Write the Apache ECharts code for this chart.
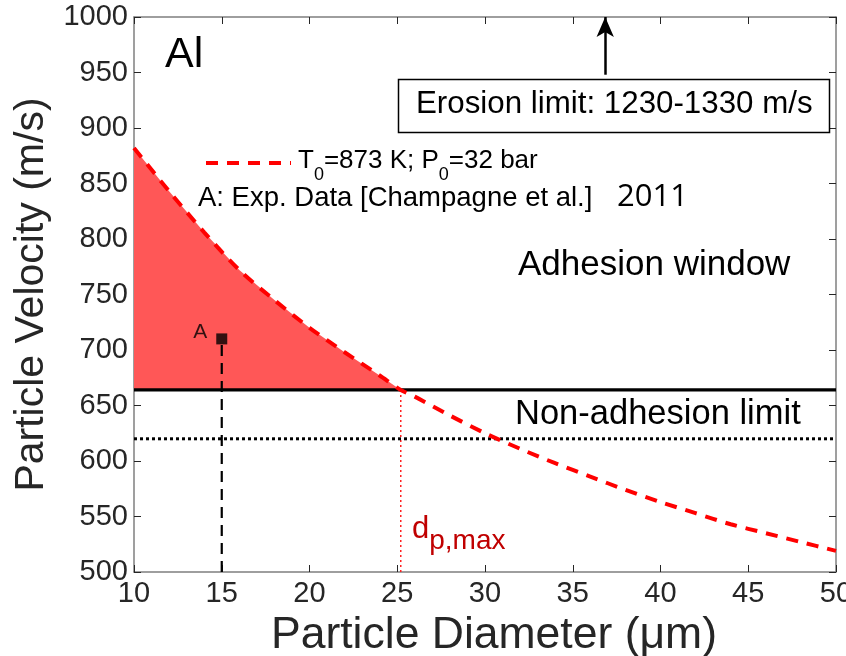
<!DOCTYPE html>
<html>
<head>
<meta charset="utf-8">
<script src="https://cdn.jsdelivr.net/npm/echarts@6/dist/echarts.min.js"></script>
<style>
  html, body { margin: 0; padding: 0; background: #ffffff; }
  #chart { width: 846px; height: 656px; }
</style>
</head>
<body>
<div id="chart"></div>
<script>
// Particle diameter (µm) and predicted impact velocity (m/s), T0=873 K, P0=32 bar
const diameters = [10, 12, 14, 16, 18, 20, 22, 24, 25.2, 26, 28, 30, 32, 34, 36, 38, 40, 42, 44, 46, 48, 50];
const velocities = [882, 843, 806, 772, 745, 720, 698, 677, 664, 658, 641, 625, 611, 598, 586, 574, 563, 553, 543, 535, 527, 519];

// Critical velocity (adhesion threshold) and non-adhesion limit
const criticalVelocity = 664;
const nonAdhesionLimit = 620;
// Largest diameter that still bonds
const dpMax = 25.2;

// Experimental point A
const expPoint = [15, 710];

// Erosion-limit arrow position
const erosionArrow = { x: 36.85, from: 948, to: 1000 };

// Axis ticks
const xTicks = [10, 15, 20, 25, 30, 35, 40, 45, 50];
const yTicks = [500, 550, 600, 650, 700, 750, 800, 850, 900, 950, 1000];

const FONT = '"Liberation Sans", Arial, Helvetica, sans-serif';
const AXIS_GREY = '#7f7f7f';
const TEXT_DARK = '#262626';

const curveData = diameters.map((d, i) => [d, velocities[i]]);

// Polygon bounded by the velocity curve above and the critical velocity below
const windowPolygon = curveData.filter(p => p[0] <= dpMax)
  .concat([[dpMax, criticalVelocity], [diameters[0], criticalVelocity]]);

const chart = echarts.init(document.getElementById('chart'), null, { renderer: 'canvas' });

const commonAxisLine = { show: true, lineStyle: { color: AXIS_GREY, width: 1.5 } };
const commonTick = { show: true, inside: true, length: 7, lineStyle: { color: TEXT_DARK, width: 1 } };

const option = {
  backgroundColor: '#ffffff',
  animation: false,
  grid: { left: 134, right: 10, top: 17, bottom: 84, containLabel: false, outerBoundsMode: 'none' },
  xAxis: [
    {
      type: 'value', min: xTicks[0], max: xTicks[xTicks.length - 1], interval: 5,
      axisLine: commonAxisLine, axisTick: commonTick,
      splitLine: { show: false },
      axisLabel: { color: TEXT_DARK, fontSize: 29, fontFamily: FONT, margin: 7, formatter: v => String(v) },
      name: 'Particle Diameter (\u03bcm)', nameLocation: 'middle', nameGap: 36,
      nameTextStyle: { color: TEXT_DARK, fontSize: 44.5, fontFamily: FONT, padding: [0, 0, 0, 18] }
    },
    {
      type: 'value', position: 'top', min: xTicks[0], max: xTicks[xTicks.length - 1], interval: 5,
      axisLine: commonAxisLine, axisTick: commonTick,
      splitLine: { show: false }, axisLabel: { show: false }
    }
  ],
  yAxis: [
    {
      type: 'value', min: yTicks[0], max: yTicks[yTicks.length - 1], interval: 50,
      axisLine: commonAxisLine, axisTick: commonTick,
      splitLine: { show: false },
      axisLabel: { color: TEXT_DARK, fontSize: 29, fontFamily: FONT, margin: 6, formatter: v => String(v) },
      name: 'Particle Velocity (m/s)', nameLocation: 'middle', nameGap: 72,
      nameTextStyle: { color: TEXT_DARK, fontSize: 41, fontFamily: FONT }
    },
    {
      type: 'value', position: 'right', min: yTicks[0], max: yTicks[yTicks.length - 1], interval: 50,
      axisLine: commonAxisLine, axisTick: commonTick,
      splitLine: { show: false }, axisLabel: { show: false }
    }
  ],
  series: [
    {
      // Adhesion window shading
      type: 'custom',
      silent: true,
      z: 1,
      data: [windowPolygon[0]],
      renderItem: function (params, api) {
        const pts = windowPolygon.map(p => api.coord(p));
        return {
          type: 'polygon',
          shape: { points: pts },
          style: { fill: '#ff5757', stroke: null }
        };
      }
    },
    {
      // Critical velocity: solid line
      type: 'line', z: 3, symbol: 'none', silent: true,
      data: [[diameters[0], criticalVelocity], [diameters[diameters.length - 1], criticalVelocity]],
      lineStyle: { color: '#000000', width: 3.2, type: 'solid' }
    },
    {
      // Non-adhesion limit: dotted line
      type: 'line', z: 3, symbol: 'none', silent: true,
      data: [[diameters[0], nonAdhesionLimit], [diameters[diameters.length - 1], nonAdhesionLimit]],
      lineStyle: { color: '#000000', width: 3, type: [3, 3] }
    },
    {
      // Maximum bonding diameter marker
      type: 'line', z: 2, symbol: 'none', silent: true,
      data: [[dpMax, yTicks[0]], [dpMax, criticalVelocity]],
      lineStyle: { color: '#ff2020', width: 1.5, type: [2, 3] }
    },
    {
      // Drop line from experimental point A
      type: 'line', z: 3, symbol: 'none', silent: true,
      data: [[expPoint[0], yTicks[0]], [expPoint[0], expPoint[1]]],
      lineStyle: { color: '#000000', width: 2.2, type: [11, 7] }
    },
    {
      // Particle velocity vs diameter
      type: 'line', z: 4, symbol: 'none', smooth: 0.3, silent: true,
      data: curveData,
      lineStyle: { color: '#ff0000', width: 4, type: [12, 9] },
      // Erosion limit arrow pointing off the top of the plot
      markLine: {
        silent: true,
        symbol: ['none', 'arrow'],
        symbolSize: [13, 20],
        label: { show: false },
        lineStyle: { color: '#000000', width: 2.5, type: 'solid' },
        data: [[
          { coord: [erosionArrow.x, erosionArrow.from] },
          { coord: [erosionArrow.x, erosionArrow.to] }
        ]]
      }
    },
    {
      // Experimental data point A
      type: 'scatter', z: 5, symbol: 'rect', symbolSize: 11, silent: true,
      data: [expPoint],
      itemStyle: { color: '#000000' },
      label: {
        show: true, position: 'left', distance: 9, offset: [0, -7],
        formatter: 'A', color: '#000000', fontSize: 21, fontFamily: FONT
      }
    }
  ],
  graphic: [
    {
      type: 'text', left: 165, top: 34, z: 10,
      style: { text: 'Al', fontSize: 43, fontFamily: FONT, fill: '#000000' }
    },
    {
      type: 'rect', z: 10,
      shape: { x: 398.5, y: 79.5, width: 431, height: 53 },
      style: { fill: '#ffffff', stroke: '#000000', lineWidth: 1.5 }
    },
    {
      type: 'text', z: 11, left: 416, top: 89,
      style: { text: 'Erosion limit: 1230-1330 m/s', fontSize: 31.3, fontFamily: FONT, fill: '#000000' }
    },
    {
      type: 'line', z: 10,
      shape: { x1: 206, y1: 163, x2: 291, y2: 163 },
      style: { stroke: '#ff0000', lineWidth: 4, lineDash: [12, 9] }
    },
    {
      type: 'text', z: 10, left: 298, top: 148,
      style: {
        text: '{n|T}{s|0}{n|=873 K; P}{s|0}{n|=32 bar}',
        fontFamily: FONT,
        rich: {
          n: { fontSize: 26, fontFamily: FONT, fill: '#000000', verticalAlign: 'top', lineHeight: 30 },
          s: { fontSize: 18, fontFamily: FONT, fill: '#000000', verticalAlign: 'top', padding: [18, 0, 0, 0], lineHeight: 18 }
        }
      }
    },
    {
      type: 'text', z: 10, left: 198, top: 184,
      style: { text: 'A: Exp. Data [Champagne et al.]', fontSize: 27.5, fontFamily: FONT, fill: '#000000' }
    },
    {
      type: 'text', z: 10, left: 617, top: 182,
      style: { text: '2011', fontSize: 31, fontFamily: '"Open Sans", Lato, sans-serif', fill: '#000000' }
    },
    {
      type: 'text', z: 10, left: 518, top: 248,
      style: { text: 'Adhesion window', fontSize: 35, fontFamily: FONT, fill: '#000000' }
    },
    {
      type: 'text', z: 10, left: 515, top: 397,
      style: { text: 'Non-adhesion limit', fontSize: 34.5, fontFamily: FONT, fill: '#000000' }
    },
    {
      type: 'text', z: 10, left: 412, top: 514,
      style: {
        text: '{d|d}{s|p,max}',
        rich: {
          d: { fontSize: 31, fontFamily: FONT, fill: '#c00000', verticalAlign: 'top', lineHeight: 34 },
          s: { fontSize: 28, fontFamily: FONT, fill: '#c00000', verticalAlign: 'top', padding: [13, 0, 0, 0], lineHeight: 30 }
        }
      }
    }
  ]
};

chart.setOption(option);
</script>
</body>
</html>
